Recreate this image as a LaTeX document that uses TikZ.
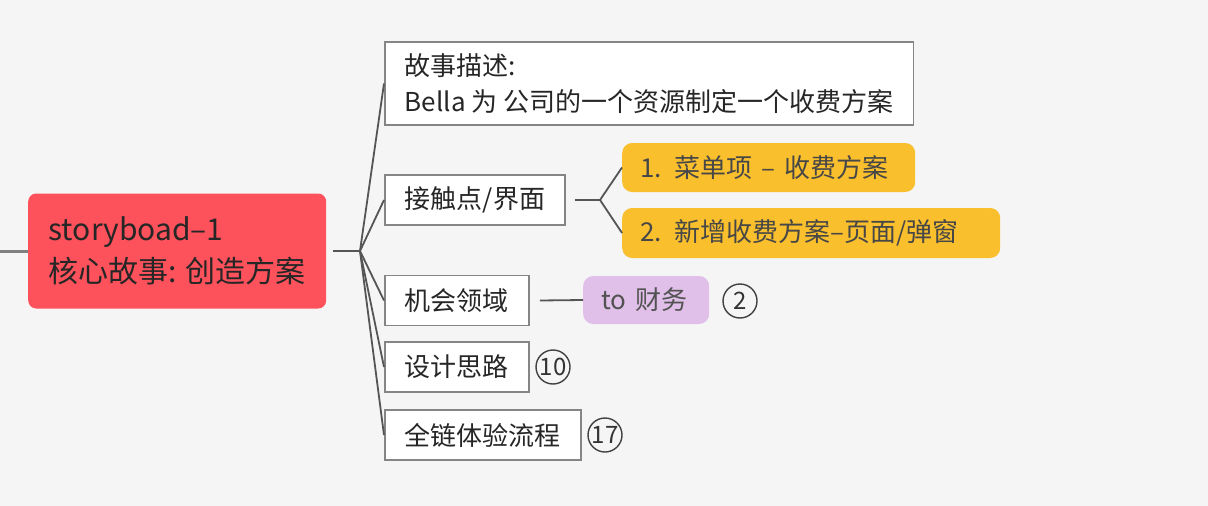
\documentclass[tikz,border=0pt]{standalone}
\usepackage{fontspec}
\setmainfont{Noto Sans CJK SC}
\usetikzlibrary{positioning}

\definecolor{bgcol}{HTML}{F5F5F5}
\definecolor{rootred}{HTML}{FD525B}
\definecolor{topicgold}{HTML}{F9BF2C}
\definecolor{topiclilac}{HTML}{E0C0E8}
\definecolor{framegray}{HTML}{858585}
\definecolor{linegray}{HTML}{555555}

\tikzset{
  rootbox/.style={fill=rootred, rounded corners=8pt, align=left, text=black!85,
    minimum width=298pt, minimum height=115pt, inner xsep=20pt,
    font=\fontsize{30}{42}\selectfont},
  subbox/.style={draw=framegray, line width=1.8pt, fill=white, align=left, text=black!85,
    minimum height=50pt, inner xsep=20pt, inner ysep=2pt,
    font=\fontsize{26}{36}\selectfont},
  goldbox/.style={fill=topicgold, rounded corners=10pt, text=black!72, align=left,
    minimum height=49pt, inner xsep=18pt, font=\fontsize{26}{30}\selectfont},
  lilacbox/.style={fill=topiclilac, rounded corners=10pt, text=black!68, align=left,
    minimum height=48pt, inner xsep=18pt, font=\fontsize{26}{30}\selectfont},
  countmark/.style={draw=black!75, line width=1.4pt, circle, minimum size=34pt,
    inner sep=0pt, text=black!80, font=\fontsize{24}{26}\selectfont},
  branch/.style={draw=linegray, line width=1.8pt}
}

\begin{document}
\begin{tikzpicture}[x=1pt, y=-1pt]
        \useasboundingbox[fill=bgcol] (0,0) rectangle (1208,506);

        % central topic
        \node[rootbox, anchor=west] (Root) at (28,251) {storyboad–1\\核心故事: 创造方案};
        \coordinate (Lead) at (0,251);
        \coordinate (Fork) at (360,251);

        % first level
        \node[subbox, anchor=west, minimum width=528pt, minimum height=83pt] (Story) at (384,83.5) {故事描述:\\Bella 为 公司的一个资源制定一个收费方案};
        \node[subbox, anchor=west, minimum width=179pt] (Touch) at (384,200) {接触点/界面};
        \node[subbox, anchor=west, minimum width=140pt] (Chance) at (384,300.5) {机会领域};
        \node[subbox, anchor=west, minimum width=140pt] (Idea) at (384,367) {设计思路};
        \node[subbox, anchor=west, minimum width=192pt] (Flow) at (384,435) {全链体验流程};

        % second level
        \coordinate (TouchFork) at (600,200);
        \node[goldbox, anchor=west, text width=257pt] (Menu) at (622,167.5) {1. 菜单项 – 收费方案};
        \node[goldbox, anchor=west, text width=342pt, minimum height=50pt] (Plan) at (622,233) {2. 新增收费方案–页面/弹窗};
        \node[lilacbox, anchor=west, text width=90pt] (Finance) at (583,300) {to 财务};

        % counters
        \node[countmark] (FinanceNo) at (740,301) {2};
        \node[countmark] (IdeaNo) at (553,367) {10};
        \node[countmark] (FlowNo) at (605,435) {17};

        % connectors
        \draw[branch, draw=black!50, line width=3pt] (Lead) -- (Root.west);
        \draw[branch] ([xshift=7pt]Root.east) -- (Fork);
        \foreach \t in {Story, Touch, Chance, Idea, Flow}
                \draw[branch] (Fork) -- (\t.west);
        \draw[branch] ([xshift=9pt]Touch.east) -- (TouchFork);
        \draw[branch] (TouchFork) -- (Menu.west);
        \draw[branch] (TouchFork) -- (Plan.west);
        \draw[branch] ([xshift=10pt]Chance.east) -- (Finance.west);
\end{tikzpicture}
\end{document}
